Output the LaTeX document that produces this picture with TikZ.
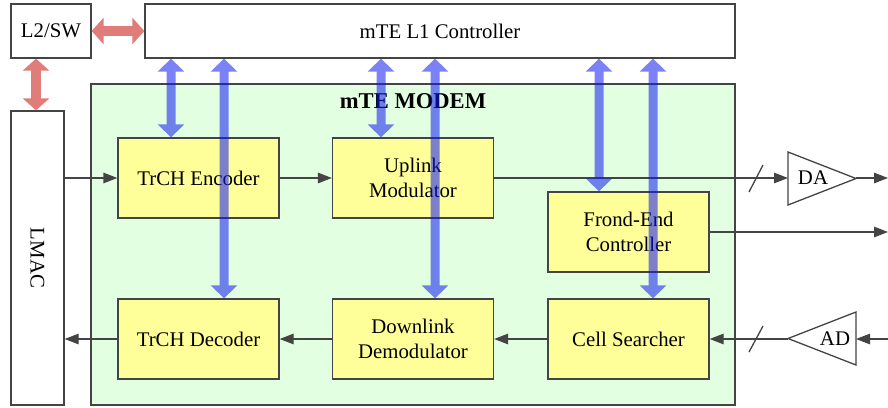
\documentclass[tikz,border=0pt]{standalone}
\usepackage{fontspec}
\setmainfont{Liberation Serif}
\usetikzlibrary{arrows.meta}
\definecolor{edge}{HTML}{444444}
\definecolor{blkfill}{HTML}{FFFF99}
\definecolor{modemfill}{HTML}{E2FFE2}
\definecolor{busblue}{RGB}{15,25,240}
\definecolor{linkred}{RGB}{224,124,122}
\tikzset{
  txt/.style={font=\fontsize{20.8}{25}\selectfont},
  frame/.style={draw=edge, line width=1.3pt, inner sep=0pt, txt},
  whitebox/.style={frame, fill=white},
  blk/.style={frame, fill=blkfill, minimum width=161pt, minimum height=80pt, align=center},
  sig/.style={draw=edge, line width=1.3pt, -{Triangle[length=14pt,width=10.5pt]}},
  bus/.style={draw=busblue, line width=9pt, {Triangle[length=13pt,width=26pt]}-{Triangle[length=13pt,width=26pt]}},
  link/.style={draw=linkred, line width=10pt, {Triangle[length=12pt,width=26pt]}-{Triangle[length=12pt,width=26pt]}},
  amp/.style={draw=edge, line width=1.3pt, fill=white},
}
\begin{document}
\begin{tikzpicture}[x=1pt,y=-1pt]
\useasboundingbox (0,0) rectangle (888,407);

% outer blocks
\node[whitebox, minimum width=80pt, minimum height=54pt] (l2) at (51,31) {L2/SW};
\node[whitebox, minimum width=590pt, minimum height=54pt] (ctrl) at (440,31) {mTE L1 Controller};
\node[whitebox, minimum width=53pt, minimum height=294pt] (lmac) at (37.5,258) {};
\node[txt, rotate=-90] (lmactext) at (lmac.center) {LMAC};

% modem frame
\node[draw=edge, line width=1.3pt, fill=modemfill, minimum width=644pt, minimum height=321pt, inner sep=0pt] (modem) at (413,244.5) {};
\node[font=\fontsize{22.6}{25}\selectfont\bfseries] (modemtitle) at (413,101) {mTE MODEM};

% processing blocks
\node[blk] (enc) at (198.5,178) {TrCH Encoder};
\node[blk] (up)  at (413,178)   {Uplink\\Modulator};
\node[blk] (fe)  at (628.5,232) {Frond-End\\Controller};
\node[blk] (dec) at (198.5,339) {TrCH Decoder};
\node[blk] (dem) at (413,339)   {Downlink\\Demodulator};
\node[blk] (cs)  at (628.5,339) {Cell Searcher};

% converters
\draw[amp] (788,152) -- (788,205) -- (856,178.5) -- cycle;
\coordinate (daIn) at (788,178);
\coordinate (daOut) at (856,178);
\node[txt] (datext) at (813,178) {DA};
\draw[amp] (856,312) -- (856,365) -- (788,338.5) -- cycle;
\coordinate (adIn) at (856,339);
\coordinate (adOut) at (788,339);
\node[txt] (adtext) at (835,339) {AD};
\coordinate (txEnd) at (888,178);
\coordinate (feEnd) at (888,232);
\coordinate (rxStart) at (888,339);

% signal paths
\draw[sig] (lmac.east |- enc.west) -- (enc.west);
\draw[sig] (enc.east) -- (up.west);
\draw[sig] (up.east |- daIn) -- (daIn);
\draw[sig] (daOut) -- (txEnd);
\draw[sig] (fe.east) -- (feEnd);
\draw[sig] (rxStart) -- (adIn);
\draw[sig] (adOut) -- (cs.east);
\draw[sig] (cs.west) -- (dem.east);
\draw[sig] (dem.west) -- (dec.east);
\draw[sig] (dec.west) -- (lmac.east |- dec.west);
\draw[draw=edge, line width=1.3pt] (749,192) -- (763,165);
\draw[draw=edge, line width=1.3pt] (749,352) -- (763,326);

% control buses
\foreach \x/\dst in {171/enc, 224/dec, 381/up, 435/dem, 599/fe, 653/cs}{
  \begin{scope}[transparency group, opacity=0.55]
    \draw[bus] (ctrl.south -| \x,0) -- (\dst.north -| \x,0);
  \end{scope}
}

% higher layer links
\draw[link] (l2.east) -- (ctrl.west);
\draw[link] (l2.south -| 36,0) -- (lmac.north -| 36,0);
\end{tikzpicture}
\end{document}
